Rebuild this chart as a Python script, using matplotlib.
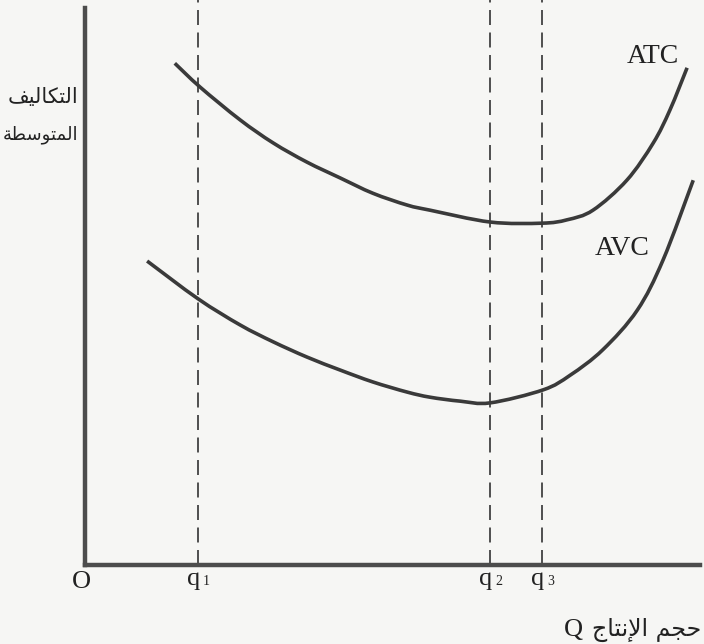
import matplotlib
matplotlib.use("Agg")
import matplotlib.pyplot as plt
import numpy as np
from matplotlib.path import Path
from matplotlib.patches import PathPatch

# courbes (Q en unites, cout en unites)
atc_q = [1.46, 1.87, 2.52, 3.06, 3.61, 4.15, 4.68, 5.24, 5.61, 6.59, 7.43, 7.84, 8.26, 8.81, 9.24, 9.51, 9.79]
atc_c = [8.88, 8.46, 7.88, 7.47, 7.13, 6.85, 6.58, 6.37, 6.28, 6.07, 6.05, 6.11, 6.28, 6.81, 7.47, 8.05, 8.80]

avc_q = [1.01, 1.84, 2.52, 3.06, 3.61, 4.15, 4.68, 5.24, 5.61, 6.10, 6.59, 7.45, 7.89, 8.42, 8.98, 9.40, 9.89]
avc_c = [5.38, 4.71, 4.25, 3.95, 3.68, 3.45, 3.24, 3.06, 2.97, 2.90, 2.87, 3.10, 3.36, 3.81, 4.51, 5.40, 6.81]

q_pos = [1.84, 6.59, 7.43]
q_noms = ["1", "2", "3"]

ylabel_lignes = ["التكاليف", "المتوسطة"]
xlabel_ar = "حجم الإنتاج"

# matplotlib ne fait pas la liaison des lettres arabes : formes de presentation
# (isole, final, initial, medial)
FORMES = {
    "ا": ("\uFE8D", "\uFE8E", None, None),
    "إ": ("\uFE87", "\uFE88", None, None),
    "ل": ("\uFEDD", "\uFEDE", "\uFEDF", "\uFEE0"),
    "ت": ("\uFE95", "\uFE96", "\uFE97", "\uFE98"),
    "ك": ("\uFED9", "\uFEDA", "\uFEDB", "\uFEDC"),
    "ي": ("\uFEF1", "\uFEF2", "\uFEF3", "\uFEF4"),
    "ف": ("\uFED1", "\uFED2", "\uFED3", "\uFED4"),
    "م": ("\uFEE1", "\uFEE2", "\uFEE3", "\uFEE4"),
    "و": ("\uFEED", "\uFEEE", None, None),
    "س": ("\uFEB1", "\uFEB2", "\uFEB3", "\uFEB4"),
    "ط": ("\uFEC1", "\uFEC2", "\uFEC3", "\uFEC4"),
    "ة": ("\uFE93", "\uFE94", None, None),
    "ح": ("\uFEA1", "\uFEA2", "\uFEA3", "\uFEA4"),
    "ج": ("\uFE9D", "\uFE9E", "\uFE9F", "\uFEA0"),
    "ن": ("\uFEE5", "\uFEE6", "\uFEE7", "\uFEE8"),
    "\uFEF9": ("\uFEF9", "\uFEFA", None, None),
    "\uFEFB": ("\uFEFB", "\uFEFC", None, None),
}


def arabe(texte):
    mots = []
    for mot in texte.split(" "):
        lettres = list(mot.replace("لإ", "\uFEF9").replace("لا", "\uFEFB"))
        glyphes = []
        for i, c in enumerate(lettres):
            iso, fin, ini, med = FORMES[c]
            avant = i > 0 and FORMES[lettres[i - 1]][2] is not None
            apres = i < len(lettres) - 1 and ini is not None
            if avant and apres:
                glyphes.append(med)
            elif avant:
                glyphes.append(fin)
            elif apres:
                glyphes.append(ini)
            else:
                glyphes.append(iso)
        mots.append("".join(reversed(glyphes)))
    return " ".join(reversed(mots))


def courbe_lisse(xs, ys):
    # Catmull-Rom -> segments de Bezier, passe par tous les points lus
    p = np.column_stack([xs, ys])
    verts = [p[0]]
    codes = [Path.MOVETO]
    n = len(p)
    for i in range(n - 1):
        p0 = p[i - 1] if i > 0 else p[i]
        p1, p2 = p[i], p[i + 1]
        p3 = p[i + 2] if i + 2 < n else p[i + 1]
        verts += [p1 + (p2 - p0) / 6, p2 - (p3 - p1) / 6, p2]
        codes += [Path.CURVE4] * 3
    return Path(verts, codes)


W, H = 704, 644
fond = "#f6f6f4"
encre = "#3a3a3a"
serif = "Liberation Serif"

fig = plt.figure(figsize=(W / 100, H / 100), dpi=100, facecolor=fond)
ax = fig.add_axes([85 / W, 79 / H, 615 / W, 565 / H])
ax.set_facecolor(fond)
ax.set_xlim(0, 10)
ax.set_ylim(0, 10)

for s in ["top", "right"]:
    ax.spines[s].set_visible(False)
for s in ["left", "bottom"]:
    ax.spines[s].set_linewidth(3.2)
    ax.spines[s].set_color("#4c4c4c")
    ax.spines[s].set_zorder(5)
ax.spines["left"].set_bounds(0, 9.86)
ax.set_xticks([])
ax.set_yticks([])

# lignes pointillees q1 q2 q3
for q in q_pos:
    ax.axvline(q, color="#333333", lw=1.2, linestyle=(0, (9, 4.5)), zorder=2)

for xs, ys in [(atc_q, atc_c), (avc_q, avc_c)]:
    ax.add_patch(PathPatch(courbe_lisse(xs, ys), facecolor="none", edgecolor=encre,
                           lw=2.6, capstyle="butt", zorder=3))

ax.text(9.24, 9.00, "ATC", fontsize=20, family=serif, color="#222222", ha="center", va="center")
ax.text(8.73, 5.60, "AVC", fontsize=20, family=serif, color="#222222", ha="center", va="center")

# etiquettes sous l'axe
ax.text(-0.05, -0.30, "O", fontsize=19, family=serif, color="#222222", ha="center", va="center", clip_on=False)
for q, n in zip(q_pos, q_noms):
    ax.annotate("q", xy=(q, -0.35), xytext=(1.5, 0), textcoords="offset points",
                fontsize=19, family=serif, color="#222222", ha="right", va="baseline",
                annotation_clip=False)
    ax.annotate(n, xy=(q, -0.35), xytext=(3.5, 0), textcoords="offset points",
                fontsize=10, family=serif, color="#222222", ha="left", va="baseline",
                annotation_clip=False)

# titres en arabe
fig.text(78 / W, 1 - 97 / H, arabe(ylabel_lignes[0]), fontsize=15, family="DejaVu Sans",
         color="#222222", ha="right", va="center")
fig.text(78 / W, 1 - 135 / H, arabe(ylabel_lignes[1]), fontsize=13, family="DejaVu Sans",
         color="#222222", ha="right", va="center")
fig.text(583 / W, 1 - 630 / H, "Q", fontsize=19, family=serif, color="#222222", ha="right", va="center")
fig.text(701 / W, 1 - 630 / H, arabe(xlabel_ar), fontsize=17, family="DejaVu Sans",
         color="#222222", ha="right", va="center")

fig.savefig("out.png", dpi=100, facecolor=fond)
